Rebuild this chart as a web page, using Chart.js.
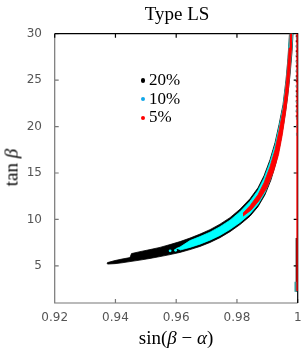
<!DOCTYPE html>
<html lang="en">
<head>
<meta charset="UTF-8">
<title>Type LS</title>
<script src="https://cdn.jsdelivr.net/npm/chart.js"></script>
<style>
  body { margin: 0; background: #fff; }
  #wrap { position: relative; width: 307px; height: 357px; }
  canvas { position: absolute; left: 0; top: 0; }
  .tex { position: absolute; font-family: "Liberation Serif", serif; color: #000; white-space: nowrap; text-align: center; }
  .leg { position: absolute; left: 149px; font-family: "Liberation Serif", serif; font-size: 17px; line-height: 18.7px; }
  .dot { position: absolute; width: 4.4px; height: 4.4px; border-radius: 50%; left: 140.5px; }
</style>
</head>
<body>
<div id="wrap">
  <canvas id="chart" width="307" height="357"></canvas>
  <div class="tex" style="left:77px; top:4px; width:200px; font-size:19px; line-height:19px;">Type LS</div>
  <div class="tex" style="left:76px; top:328px; width:200px; font-size:19px; line-height:19px;">sin(<i>β</i> − <i>α</i>)</div>
  <div class="tex" style="left:-29px; top:158px; width:80px; font-size:19px; line-height:19px; transform:rotate(-90deg);">tan <i>β</i></div>
  <div id="legend"></div>
</div>
<script>
  // axis ticks
  const xTicks = [0.92, 0.94, 0.96, 0.98, 1];
  const yTicks = [5, 10, 15, 20, 25, 30];

  // series (legend order)
  const seriesLabels = ["20%", "10%", "5%"];
  const seriesColors = ["#000000", "#00ffff", "#ff0000"];
  const legendDotColors = ["#000000", "#12a7e8", "#ff0000"];

  // allowed region edges [sin(b-a), tan b]
  const band20Upper = [[0.9372, 5.27], [0.93738, 5.35], [0.93985, 5.57], [0.94216, 5.73], [0.94479, 5.89], [0.94528, 6.32],
    [0.94808, 6.53], [0.95137, 6.75], [0.95467, 6.99], [0.95796, 7.29], [0.96125, 7.61], [0.96454, 7.99],
    [0.96784, 8.42], [0.97113, 8.90], [0.97442, 9.49], [0.97771, 10.19], [0.98100, 11.10], [0.98430, 12.23],
    [0.98693, 13.41], [0.98891, 14.70], [0.99088, 16.42], [0.99253, 18.25], [0.99384, 20.19], [0.99516, 22.34],
    [0.99615, 25.02], [0.99681, 27.39], [0.99730, 30.0]];
  const band20Lower = [[0.93738, 5.19], [0.93985, 5.24], [0.94216, 5.33], [0.94479, 5.46], [0.94808, 5.62],
    [0.95137, 5.80], [0.95467, 6.00], [0.95796, 6.21], [0.96125, 6.45], [0.96454, 6.75], [0.96784, 7.09],
    [0.97113, 7.52], [0.97442, 8.04], [0.97771, 8.68], [0.98100, 9.44], [0.98430, 10.35], [0.98693, 11.37],
    [0.98924, 12.66], [0.99121, 14.27], [0.99286, 16.10], [0.99417, 18.04], [0.99549, 20.51], [0.99664, 23.09],
    [0.99747, 25.56], [0.99812, 28.03], [0.99845, 30.0]];

  const band10Upper = [[0.95993, 6.86], [0.96125, 7.02], [0.96454, 7.72], [0.96784, 8.15], [0.97113, 8.63],
    [0.97442, 9.22], [0.97771, 9.92], [0.98100, 10.83], [0.98430, 11.96], [0.98693, 13.15], [0.98891, 14.44],
    [0.99088, 16.16], [0.99253, 17.98], [0.99384, 19.92], [0.99516, 22.07], [0.99615, 24.75], [0.99681, 27.12],
    [0.99738, 30.0]];
  const band10Lower = [[0.96125, 6.70], [0.96454, 6.99], [0.96784, 7.34], [0.97113, 7.77], [0.97442, 8.28],
    [0.97771, 8.92], [0.98100, 9.67], [0.98430, 10.59], [0.98693, 11.61], [0.98924, 12.90], [0.99121, 14.51],
    [0.99286, 16.34], [0.99417, 18.27], [0.99549, 20.74], [0.99658, 23.32], [0.99740, 25.80], [0.99802, 28.27],
    [0.99835, 30.0]];
  const band10Dots = [[0.9580, 6.62], [0.9598, 6.68]];

  const band5Upper = [[0.98199, 10.67], [0.98430, 11.48], [0.98693, 12.66], [0.98891, 13.95], [0.99088, 15.67],
    [0.99253, 17.50], [0.99384, 19.54], [0.99516, 21.80], [0.99598, 23.95], [0.99664, 26.31], [0.99714, 28.46],
    [0.99745, 30.0]];
  const band5Lower = [[0.98199, 10.35], [0.98463, 11.00], [0.98726, 12.02], [0.98989, 13.41], [0.99203, 15.13],
    [0.99368, 16.96], [0.99493, 19.11], [0.99615, 21.80], [0.99700, 24.16], [0.99747, 26.10], [0.99796, 28.25],
    [0.99812, 30.0]];

  // the thin strip at sin(b-a) ~ 1
  const strip20 = [[0.99955, 2.2], [0.99955, 8.0]];
  const strip20Top = [[0.99958, 21.0], [0.99958, 30.0]];
  const strip10 = [[0.99935, 2.2], [0.99935, 3.3]];
  const strip10Top = [[0.99962, 19.0], [0.99962, 30.0]];
  const strip5 = [[0.99995, 2.3], [0.99995, 30.0]];

  const pts = arr => arr.map(p => ({ x: p[0], y: p[1] }));
  const polygon = (upper, lower) => pts(upper.concat(lower.slice().reverse()));

  function area(data, color, order) {
    return { data: polygon(data[0], data[1]), borderColor: color, backgroundColor: color,
      borderWidth: 0.8, pointRadius: 0, fill: "shape", order: order };
  }
  function strip(data, color, width, order, dash) {
    return { data: pts(data), borderColor: color, borderWidth: width, pointRadius: 0,
      fill: false, order: order, borderDash: dash || [] };
  }

  const datasets = [
    area([band20Upper, band20Lower], seriesColors[0], 30),
    strip(strip20, seriesColors[0], 1.3, 29),
    strip(strip20Top, seriesColors[0], 1.3, 28, [2, 3]),
    area([band10Upper, band10Lower], seriesColors[1], 20),
    { data: pts(band10Dots), showLine: false, pointRadius: 1.4, pointBorderWidth: 0,
      pointBackgroundColor: seriesColors[1], order: 19 },
    strip(strip10, "#3a9a9a", 2.5, 18),
    strip(strip10Top, seriesColors[1], 1.2, 17, [3, 5]),
    area([band5Upper, band5Lower], seriesColors[2], 10),
    strip(strip5, seriesColors[2], 2.4, 9)
  ];

  // legend
  const legend = document.getElementById("legend");
  const legendTops = [71, 89.7, 108.4];
  seriesLabels.forEach((lab, i) => {
    const t = document.createElement("div");
    t.className = "leg";
    t.style.top = legendTops[i] + "px";
    t.textContent = lab;
    legend.appendChild(t);
    const d = document.createElement("div");
    d.className = "dot";
    d.style.top = (legendTops[i] + 7.3) + "px";
    d.style.background = legendDotColors[i];
    legend.appendChild(d);
  });

  // box with inward ticks
  const framePlugin = {
    id: "frame",
    beforeDatasetsDraw(chart) {
      const { ctx, chartArea: a, scales } = chart;
      const len = 4;
      ctx.save();
      ctx.lineWidth = 1.2;
      ctx.strokeStyle = "#777";
      ctx.beginPath();
      ctx.moveTo(a.left, a.top); ctx.lineTo(a.left, a.bottom); ctx.lineTo(a.right, a.bottom);
      scales.x.ticks.forEach(t => {
        const px = scales.x.getPixelForValue(t.value);
        ctx.moveTo(px, a.bottom); ctx.lineTo(px, a.bottom - len);
      });
      scales.y.ticks.forEach(t => {
        const py = scales.y.getPixelForValue(t.value);
        ctx.moveTo(a.left, py); ctx.lineTo(a.left + len, py);
      });
      ctx.stroke();
      ctx.strokeStyle = "#000";
      ctx.beginPath();
      ctx.moveTo(a.left, a.top); ctx.lineTo(a.right, a.top); ctx.lineTo(a.right, a.bottom);
      scales.x.ticks.forEach(t => {
        const px = scales.x.getPixelForValue(t.value);
        ctx.moveTo(px, a.top); ctx.lineTo(px, a.top + len);
      });
      scales.y.ticks.forEach(t => {
        const py = scales.y.getPixelForValue(t.value);
        ctx.moveTo(a.right, py); ctx.lineTo(a.right - len, py);
      });
      ctx.stroke();
      ctx.restore();
    }
  };

  const tickFont = { family: "DejaVu Sans", size: 12 };

  new Chart(document.getElementById("chart").getContext("2d"), {
    type: "line",
    data: { datasets: datasets },
    options: {
      responsive: false,
      animation: false,
      devicePixelRatio: 1,
      layout: { padding: { left: 26.7, right: 9.3, top: 33.7, bottom: 31.8 } },
      plugins: { legend: { display: false }, tooltip: { enabled: false } },
      scales: {
        x: {
          type: "linear", min: 0.92, max: 1,
          afterBuildTicks: s => { s.ticks = xTicks.map(v => ({ value: v })); },
          afterFit: s => { s.height = 22.2; s.paddingLeft = 0; s.paddingRight = 0; },
          ticks: { font: tickFont, color: "#555", padding: 7.8, maxRotation: 0, autoSkip: false,
            callback: v => String(v) },
          grid: { display: false, drawTicks: false },
          border: { display: false }
        },
        y: {
          type: "linear", min: 1, max: 30,
          afterBuildTicks: s => { s.ticks = yTicks.map(v => ({ value: v })); },
          afterFit: s => { s.width = 28; s.paddingTop = 0; s.paddingBottom = 0; },
          ticks: { font: tickFont, color: "#555", padding: 12.7, autoSkip: false,
            callback: v => String(v) },
          grid: { display: false, drawTicks: false },
          border: { display: false }
        }
      }
    },
    plugins: [framePlugin]
  });
</script>
</body>
</html>
